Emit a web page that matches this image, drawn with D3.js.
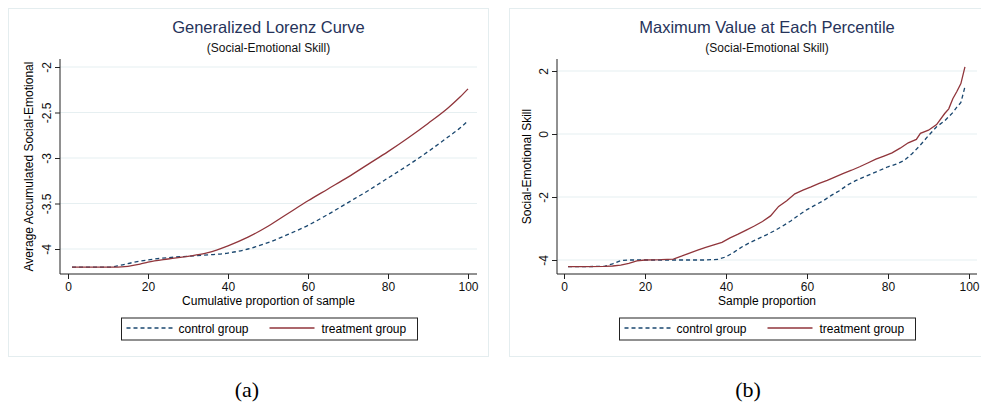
<!DOCTYPE html>
<html>
<head>
<meta charset="utf-8">
<script src="https://cdn.jsdelivr.net/npm/d3@7"></script>
<style>
  body { margin: 0; background: #fff; }
  text { font-family: Arial, "Liberation Sans", sans-serif; }
</style>
</head>
<body>
<div id="chart"></div>
<script>
let width = 981;
let height = 405;

// Panel (a): generalized Lorenz curve
let lorenzControlX = [1, 5, 10, 13, 16, 20, 25, 30, 35, 40, 45, 50, 55, 60, 65, 70, 75, 80, 85, 90, 95, 98, 100];
let lorenzControlY = [-4.20, -4.20, -4.20, -4.18, -4.15, -4.12, -4.095, -4.08, -4.065, -4.045, -4.00, -3.93, -3.84, -3.74, -3.62, -3.49, -3.36, -3.22, -3.08, -2.93, -2.77, -2.67, -2.59];
let lorenzTreatX = [1, 5, 10, 15, 18, 20, 25, 30, 33, 35, 40, 45, 50, 55, 60, 65, 70, 75, 80, 85, 90, 95, 98, 100];
let lorenzTreatY = [-4.20, -4.20, -4.20, -4.19, -4.165, -4.145, -4.11, -4.08, -4.06, -4.04, -3.965, -3.87, -3.75, -3.61, -3.47, -3.34, -3.21, -3.07, -2.93, -2.78, -2.62, -2.45, -2.33, -2.24];

// Panel (b): maximum value at each percentile
let maxControlX = [1, 5, 10, 12, 14, 16, 20, 25, 30, 35, 38, 40, 42, 44, 46, 48, 50, 52, 54, 56, 58, 60, 62, 64, 66, 68, 70, 72, 74, 76, 78, 80, 82, 84, 86, 88, 90, 92, 94, 95, 96, 97, 98, 99];
let maxControlY = [-4.21, -4.21, -4.20, -4.12, -4.02, -4.00, -4.00, -4.00, -4.00, -4.00, -3.98, -3.90, -3.75, -3.58, -3.44, -3.32, -3.20, -3.07, -2.92, -2.76, -2.57, -2.40, -2.26, -2.12, -1.95, -1.80, -1.62, -1.48, -1.37, -1.26, -1.15, -1.04, -0.96, -0.84, -0.62, -0.35, -0.05, 0.23, 0.42, 0.55, 0.68, 0.85, 1.00, 1.50];
let maxTreatX = [1, 5, 10, 12, 14, 16, 18, 20, 24, 27, 29, 31, 33, 35, 37, 39, 41, 43, 45, 47, 49, 51, 53, 55, 57, 59, 61, 63, 65, 67, 69, 71, 73, 75, 77, 79, 81, 83, 85, 87, 88, 90, 92, 94, 95, 96, 97, 98, 99];
let maxTreatY = [-4.21, -4.21, -4.20, -4.19, -4.16, -4.11, -4.03, -4.00, -3.99, -3.97, -3.88, -3.78, -3.69, -3.60, -3.52, -3.44, -3.30, -3.18, -3.05, -2.92, -2.78, -2.60, -2.30, -2.12, -1.90, -1.78, -1.68, -1.57, -1.47, -1.36, -1.25, -1.15, -1.04, -0.92, -0.80, -0.70, -0.60, -0.45, -0.28, -0.17, 0.02, 0.12, 0.30, 0.65, 0.80, 1.12, 1.35, 1.60, 2.13];

let xTicks = [0, 20, 40, 60, 80, 100];
let lorenzYTicks = [-4, -3.5, -3, -2.5, -2];
let maxYTicks = [-4, -2, 0, 2];

let legendLabels = ["control group", "treatment group"];
let colors = { control: "#1a476f", treat: "#90353b" };

let svg = d3.select("#chart")
    .append("svg")
    .attr("width", width)
    .attr("height", height);

function drawPanel(p) {
    let g = svg.append("g");

    // panel frame
    g.append("rect")
        .attr("x", p.box[0]).attr("y", p.box[1])
        .attr("width", p.box[2]).attr("height", p.box[3])
        .attr("fill", "#fff")
        .attr("stroke", "#e4edef")
        .attr("stroke-width", 1);

    let x = d3.scaleLinear().domain([0, 100]).range(p.xRange);
    let y = d3.scaleLinear().domain(p.yDomain).range(p.yRange);

    // gridlines
    g.selectAll(".grid")
        .data(p.yTicks)
        .enter().append("line")
        .attr("x1", p.axisX).attr("x2", p.plotRight)
        .attr("y1", d => y(d)).attr("y2", d => y(d))
        .attr("stroke", "#e6eff1")
        .attr("stroke-width", 1.2);

    // y axis
    let yAxis = g.append("g")
        .attr("transform", "translate(" + p.axisX + ",0)")
        .call(d3.axisLeft(y).tickValues(p.yTicks).tickSize(5).tickFormat(d => d3.format("")(d).replace("−", "-")));
    yAxis.attr("font-family", null);
    yAxis.select(".domain").attr("d", "M0," + p.axisTop + "V" + p.axisBottom).attr("stroke", "#222");
    yAxis.selectAll(".tick line").attr("stroke", "#222");
    yAxis.selectAll(".tick text")
        .attr("transform", "rotate(-90)")
        .attr("x", 0).attr("y", -9)
        .attr("dy", "0")
        .attr("text-anchor", "middle")
        .style("font-size", "12px")
        .style("fill", "#111");

    // x axis
    let xAxis = g.append("g")
        .attr("transform", "translate(0," + p.axisBottom + ")")
        .call(d3.axisBottom(x).tickValues(xTicks).tickSize(5));
    xAxis.attr("font-family", null);
    xAxis.select(".domain").attr("d", "M" + p.axisX + ",0H" + p.plotRight).attr("stroke", "#222");
    xAxis.selectAll(".tick line").attr("stroke", "#222");
    xAxis.selectAll(".tick text")
        .attr("y", 8)
        .style("font-size", "12px")
        .style("fill", "#111");

    // axis titles
    g.append("text")
        .attr("x", (p.axisX + p.plotRight) / 2)
        .attr("y", p.axisBottom + 31)
        .attr("text-anchor", "middle")
        .style("font-size", "12px")
        .text(p.xTitle);

    g.append("text")
        .attr("transform", "translate(" + p.yTitleX + "," + ((p.axisTop + p.axisBottom) / 2) + ") rotate(-90)")
        .attr("text-anchor", "middle")
        .style("font-size", "12px")
        .text(p.yTitle);

    // titles
    g.append("text")
        .attr("x", (p.axisX + p.plotRight) / 2)
        .attr("y", 33)
        .attr("text-anchor", "middle")
        .style("font-size", "16.5px")
        .style("fill", "#26335a")
        .text(p.title);

    g.append("text")
        .attr("x", (p.axisX + p.plotRight) / 2)
        .attr("y", 52)
        .attr("text-anchor", "middle")
        .style("font-size", "12px")
        .style("fill", "#111")
        .text("(Social-Emotional Skill)");

    // lines
    let line = d3.line().x(d => x(d[0])).y(d => y(d[1])).curve(p.curve);

    g.append("path")
        .datum(d3.zip(p.controlX, p.controlY))
        .attr("d", line)
        .attr("fill", "none")
        .attr("stroke", colors.control)
        .attr("stroke-width", 1.3)
        .attr("stroke-dasharray", "4,3");

    g.append("path")
        .datum(d3.zip(p.treatX, p.treatY))
        .attr("d", line)
        .attr("fill", "none")
        .attr("stroke", colors.treat)
        .attr("stroke-width", 1.3);

    // legend
    let lx = p.legendX;
    let ly = 318;
    g.append("rect")
        .attr("x", lx).attr("y", ly)
        .attr("width", 296).attr("height", 22)
        .attr("fill", "#fff")
        .attr("stroke", "#222")
        .attr("stroke-width", 1);

    g.append("line")
        .attr("x1", lx + 5).attr("x2", lx + 51)
        .attr("y1", ly + 10).attr("y2", ly + 10)
        .attr("stroke", colors.control)
        .attr("stroke-width", 1.3)
        .attr("stroke-dasharray", "4,3");
    g.append("text")
        .attr("x", lx + 57).attr("y", ly + 15)
        .style("font-size", "12px")
        .text(legendLabels[0]);

    g.append("line")
        .attr("x1", lx + 148).attr("x2", lx + 193)
        .attr("y1", ly + 10).attr("y2", ly + 10)
        .attr("stroke", colors.treat)
        .attr("stroke-width", 1.3);
    g.append("text")
        .attr("x", lx + 200).attr("y", ly + 15)
        .style("font-size", "12px")
        .text(legendLabels[1]);

    // caption
    svg.append("text")
        .attr("x", p.captionX)
        .attr("y", 397)
        .attr("text-anchor", "middle")
        .style("font-family", "'Liberation Serif', 'DejaVu Serif', serif")
        .style("font-size", "22px")
        .text(p.caption);
}

drawPanel({
    box: [8.5, 8.5, 480, 348],
    xRange: [68, 468],
    yDomain: [-4, -2],
    yRange: [249, 67],
    yTicks: lorenzYTicks,
    axisX: 60,
    axisTop: 59,
    axisBottom: 274,
    plotRight: 477,
    yTitleX: 33,
    xTitle: "Cumulative proportion of sample",
    yTitle: "Average Accumulated Social-Emotional",
    title: "Generalized Lorenz Curve",
    curve: d3.curveMonotoneX,
    controlX: lorenzControlX, controlY: lorenzControlY,
    treatX: lorenzTreatX, treatY: lorenzTreatY,
    legendX: 121.5,
    caption: "(a)",
    captionX: 247
});

drawPanel({
    box: [509.5, 8.5, 490, 348],
    xRange: [564, 969],
    yDomain: [-4, 2],
    yRange: [260, 71],
    yTicks: maxYTicks,
    axisX: 557,
    axisTop: 59,
    axisBottom: 274,
    plotRight: 977,
    yTitleX: 531,
    xTitle: "Sample proportion",
    yTitle: "Social-Emotional Skill",
    title: "Maximum Value at Each Percentile",
    curve: d3.curveLinear,
    controlX: maxControlX, controlY: maxControlY,
    treatX: maxTreatX, treatY: maxTreatY,
    legendX: 619.5,
    caption: "(b)",
    captionX: 748
});
</script>
</body>
</html>
